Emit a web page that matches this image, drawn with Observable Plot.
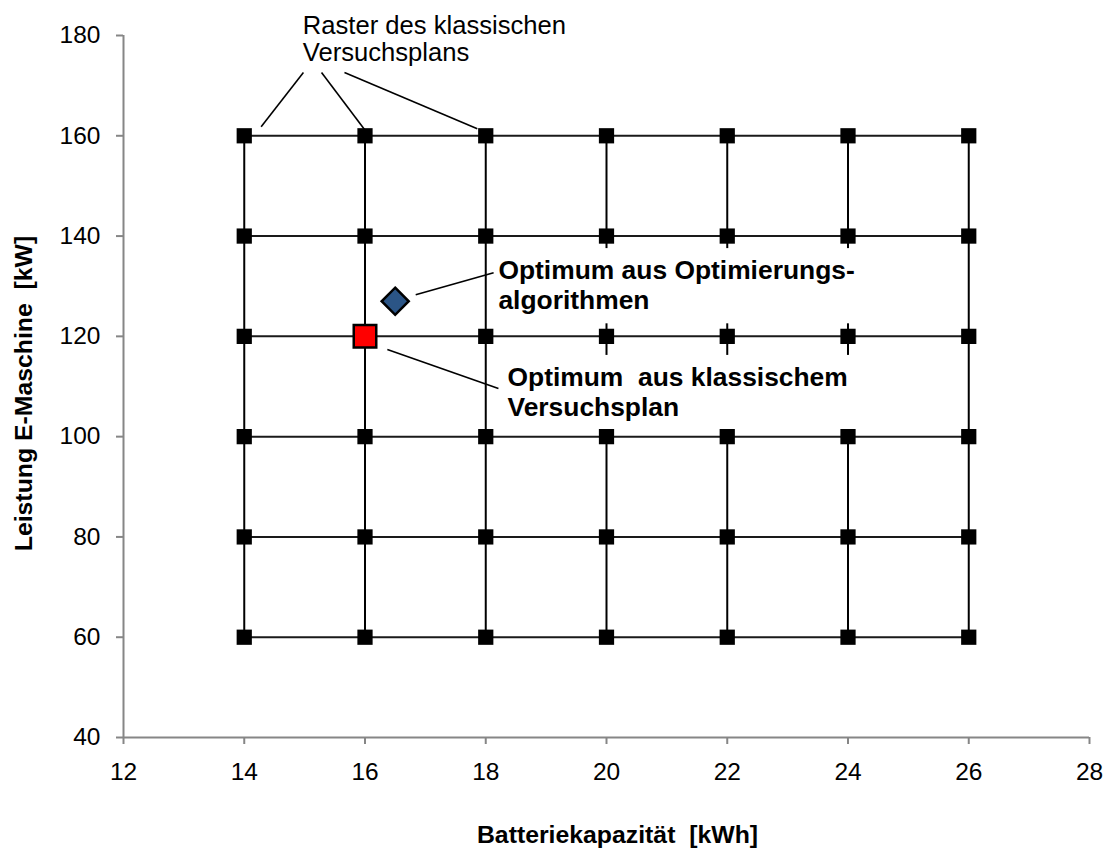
<!DOCTYPE html>
<html>
<head>
<meta charset="utf-8">
<script src="https://cdn.jsdelivr.net/npm/d3@7"></script>
<script src="https://cdn.jsdelivr.net/npm/@observablehq/plot@0.6"></script>
<style>
  body { margin: 0; background: #fff; }
  svg { display: block; }
</style>
</head>
<body>
<div id="chart"></div>
<script>
// ---- data ----
const batteryKWh = [14, 16, 18, 20, 22, 24, 26];
const powerKW = [60, 80, 100, 120, 140, 160];
const xTicks = [12, 14, 16, 18, 20, 22, 24, 26, 28];
const yTicks = [40, 60, 80, 100, 120, 140, 160, 180];
const classicOptimum = [{b: 16, p: 120}];
const algoOptimum = [{b: 16.5, p: 127}];

const xTitle = "Batteriekapazität\u00a0 [kWh]";
const yTitle = "Leistung E-Maschine\u00a0 [kW]";
const labelRaster = "Raster des klassischen\nVersuchsplans";
const labelAlgo = "Optimum aus Optimierungs-\nalgorithmen";
const labelClassic = "Optimum\u00a0 aus klassischem\nVersuchsplan";

// ---- annotation anchors (data units) ----
const rasterLabelAt = [{label: labelRaster, b: 14.97, p: 184.2}];
const optimumLabelsAt = [
  {label: labelAlgo, b: 18.21, p: 135.7},
  {label: labelClassic, b: 18.36, p: 114.3}
];
const rasterLeaders = [
  {b1: 14.98, p1: 172.6, b2: 14.28, p2: 161.8},
  {b1: 15.28, p1: 172.6, b2: 16.02, p2: 160.8},
  {b1: 15.66, p1: 172.6, b2: 17.86, p2: 161.4}
];
const optimumLeaders = [
  {b1: 16.84, p1: 128.3, b2: 18.13, p2: 132.7},
  {b1: 16.37, p1: 117.4, b2: 18.21, p2: 109.6}
];
const labelBoxes = [
  {b1: 18.08, b2: 24.24, p1: 122.5, p2: 137.5},
  {b1: 18.08, b2: 24.24, p1: 101.2, p2: 116.2}
];

// grid table built from the arrays
const grid = powerKW.flatMap(p => batteryKWh.map(b => ({b, p})));

const axisGray = "#868686";

const chart = Plot.plot({
  width: 1109,
  height: 850,
  marginLeft: 123,
  marginRight: 20,
  marginTop: 35,
  marginBottom: 113,
  style: {
    fontFamily: "'Liberation Sans', Arial, sans-serif",
    fontSize: "24px",
    background: "white",
    color: "black",
    overflow: "visible"
  },
  x: {domain: [12, 28]},
  y: {domain: [40, 180]},
  marks: [
    // grid lines (rows and columns)
    Plot.line(grid, {x: "b", y: "p", z: "p", stroke: "#1a1a1a", strokeWidth: 2}),
    Plot.line(grid, {x: "b", y: "p", z: "b", stroke: "black", strokeWidth: 2}),
    // white label backgrounds
    Plot.rect(labelBoxes, {x1: "b1", x2: "b2", y1: "p1", y2: "p2", fill: "white"}),
    // axes
    Plot.ruleX([12], {stroke: axisGray, strokeWidth: 2}),
    Plot.ruleY([40], {stroke: axisGray, strokeWidth: 2}),
    Plot.axisX({ticks: xTicks, tickSize: 7, tickPadding: 18, stroke: axisGray, strokeWidth: 2, fill: "black", fontSize: 24.5, label: null, tickFormat: d => String(d)}),
    Plot.axisY({ticks: yTicks, tickSize: 7, tickPadding: 16, stroke: axisGray, strokeWidth: 2, fill: "black", fontSize: 24.5, label: null, tickFormat: d => String(d)}),
    // grid markers
    Plot.dot(grid, {x: "b", y: "p", symbol: "square", r: 8.6, fill: "black", stroke: null}),
    // optima
    Plot.dot(classicOptimum, {x: "b", y: "p", symbol: "square", r: 12.7, fill: "#ff0000", stroke: "black", strokeWidth: 2.5}),
    Plot.dot(algoOptimum, {x: "b", y: "p", symbol: "diamond2", r: 12.2, fill: "#2b5586", stroke: "black", strokeWidth: 2.5}),
    // leader lines
    Plot.link(rasterLeaders, {x1: "b1", y1: "p1", x2: "b2", y2: "p2", stroke: "black", strokeWidth: 1.6}),
    Plot.link(optimumLeaders, {x1: "b1", y1: "p1", x2: "b2", y2: "p2", stroke: "black", strokeWidth: 1.6}),
    // annotation texts
    Plot.text(rasterLabelAt, {x: "b", y: "p", text: "label", textAnchor: "start", lineAnchor: "top", lineHeight: 1.06, fontSize: 25.6, fill: "black"}),
    Plot.text(optimumLabelsAt, {x: "b", y: "p", text: "label", textAnchor: "start", lineAnchor: "top", lineHeight: 1.14, fontSize: 26.4, fontWeight: "bold", fill: "black"}),
    // axis titles
    Plot.text([xTitle], {text: d => d, frameAnchor: "bottom", textAnchor: "middle", lineAnchor: "middle", dy: 98, dx: 11, fontSize: 24.8, fontWeight: "bold", fill: "black"}),
    Plot.text([yTitle], {text: d => d, frameAnchor: "left", textAnchor: "middle", lineAnchor: "middle", rotate: -90, dx: -99, dy: 7, fontSize: 24.8, fontWeight: "bold", fill: "black"})
  ]
});

document.getElementById("chart").appendChild(chart);
</script>
</body>
</html>
